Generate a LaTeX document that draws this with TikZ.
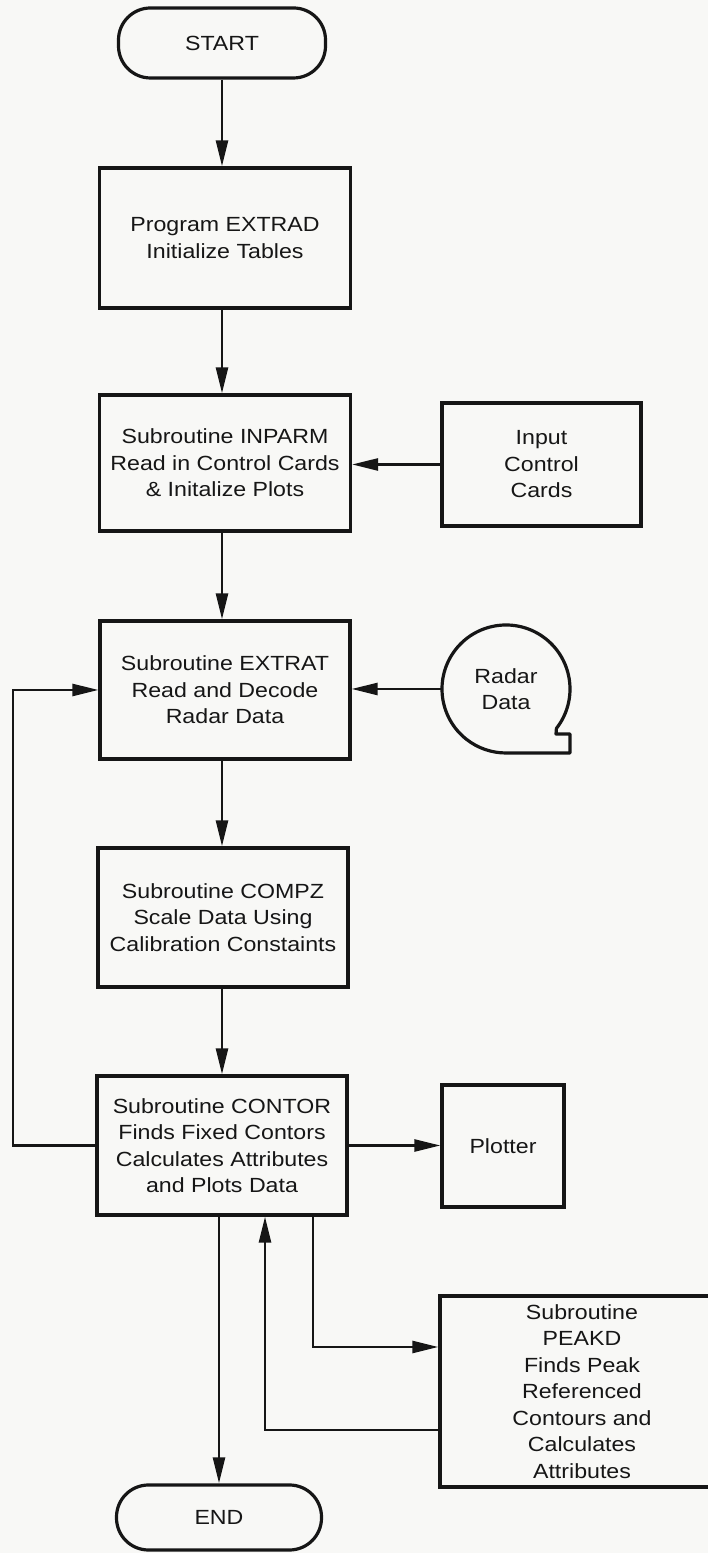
\documentclass[tikz,border=0pt]{standalone}
\usepackage{fontspec}
\setmainfont{Liberation Sans}[FakeStretch=1.13]
\usetikzlibrary{arrows.meta}
\definecolor{ink}{RGB}{22,22,22}
\definecolor{paper}{RGB}{248,248,246}
\tikzset{
  box/.style={draw=ink, line width=3.2pt, rectangle, inner sep=0pt, align=center,
    font=\fontsize{20.5}{26.5}\selectfont, text=ink},
  term/.style={box, rounded corners=32pt},
  conn/.style={draw=ink, line width=2.6pt},
  arr/.style={conn, -{Triangle[length=26pt,width=12pt]}},
}
\begin{document}
\begin{tikzpicture}[x=1pt,y=1pt]
\useasboundingbox (0,0) rectangle (708,1553);
\clip (0,0) rectangle (708,1553);
\fill[paper] (0,0) rectangle (708,1553);

% nodes
\node[term, minimum width=207pt, minimum height=70pt] (start) at (222,1510) {START};
\node[box, minimum width=251pt, minimum height=140pt] (extrad) at (225,1315) {Program EXTRAD\\Initialize Tables};
\node[box, minimum width=251pt, minimum height=136pt] (inparm) at (225,1090) {Subroutine INPARM\\Read in Control Cards\\\& Initalize Plots};
\node[box, minimum width=199pt, minimum height=123pt] (input) at (541.5,1088.5) {Input\\Control\\Cards};
\node[box, minimum width=250pt, minimum height=138pt] (extrat) at (225,863) {Subroutine EXTRAT\\Read and Decode\\Radar Data};
\node[circle, inner sep=0pt, minimum size=128pt, align=center, text=ink,
      font=\fontsize{20.5}{26.5}\selectfont] (radar) at (506,864) {Radar\\Data};
\node[box, minimum width=250pt, minimum height=139pt] (compz) at (223,635.5) {Subroutine COMPZ\\Scale Data Using\\Calibration Constaints};
\node[box, minimum width=250pt, minimum height=139pt] (contor) at (222,407.5) {Subroutine CONTOR\\Finds Fixed Contors\\Calculates Attributes\\and Plots Data};
\node[box, minimum width=122pt, minimum height=122pt] (plotter) at (503,407) {Plotter};
\node[box, minimum width=284pt, minimum height=191pt] (peakd) at (582,161.5) {Subroutine\\PEAKD\\Finds Peak\\Referenced\\Contours and\\Calculates\\Attributes};
\node[term, minimum width=205pt, minimum height=65pt] (end) at (219,35.5) {END};

% tape symbol outline for Radar Data
\draw[ink, line width=3.2pt, line join=round]
  (radar.center) ++(-38:64pt) arc[start angle=-38, end angle=270, radius=64pt]
  -- (570,800) -- (570,819) -- (556,819) -- cycle;

% helper coordinates
\coordinate (loop) at (13,0);
\coordinate (ret) at (265,123);
\coordinate (outp) at (313,206);

% main column
\draw[arr] (start.south) -- (start.south |- extrad.north);
\draw[arr] (extrad.south -| start) -- (inparm.north -| start);
\draw[arr] (inparm.south -| start) -- (extrat.north -| start);
\draw[arr] (extrat.south -| start) -- (compz.north -| start);
\draw[arr] (compz.south -| start) -- (contor.north -| start);
\draw[arr] (end.north |- contor.south) -- (end.north);

% side inputs/outputs
\draw[arr] (input.west) -- (input.west -| inparm.east);
\draw[arr] (radar.west) -- (radar.west -| extrat.east);
\draw[arr] (contor.east) -- (contor.east -| plotter.west);

% loop back to EXTRAT
\draw[arr] (contor.west) -- (contor.west -| loop) -- (extrat.west -| loop) -- (extrat.west);

% PEAKD branch
\draw[arr] (outp |- contor.south) -- (outp) -- (outp -| peakd.west);
\draw[arr] (peakd.west |- ret) -- (ret) -- (ret |- contor.south);
\end{tikzpicture}
\end{document}
